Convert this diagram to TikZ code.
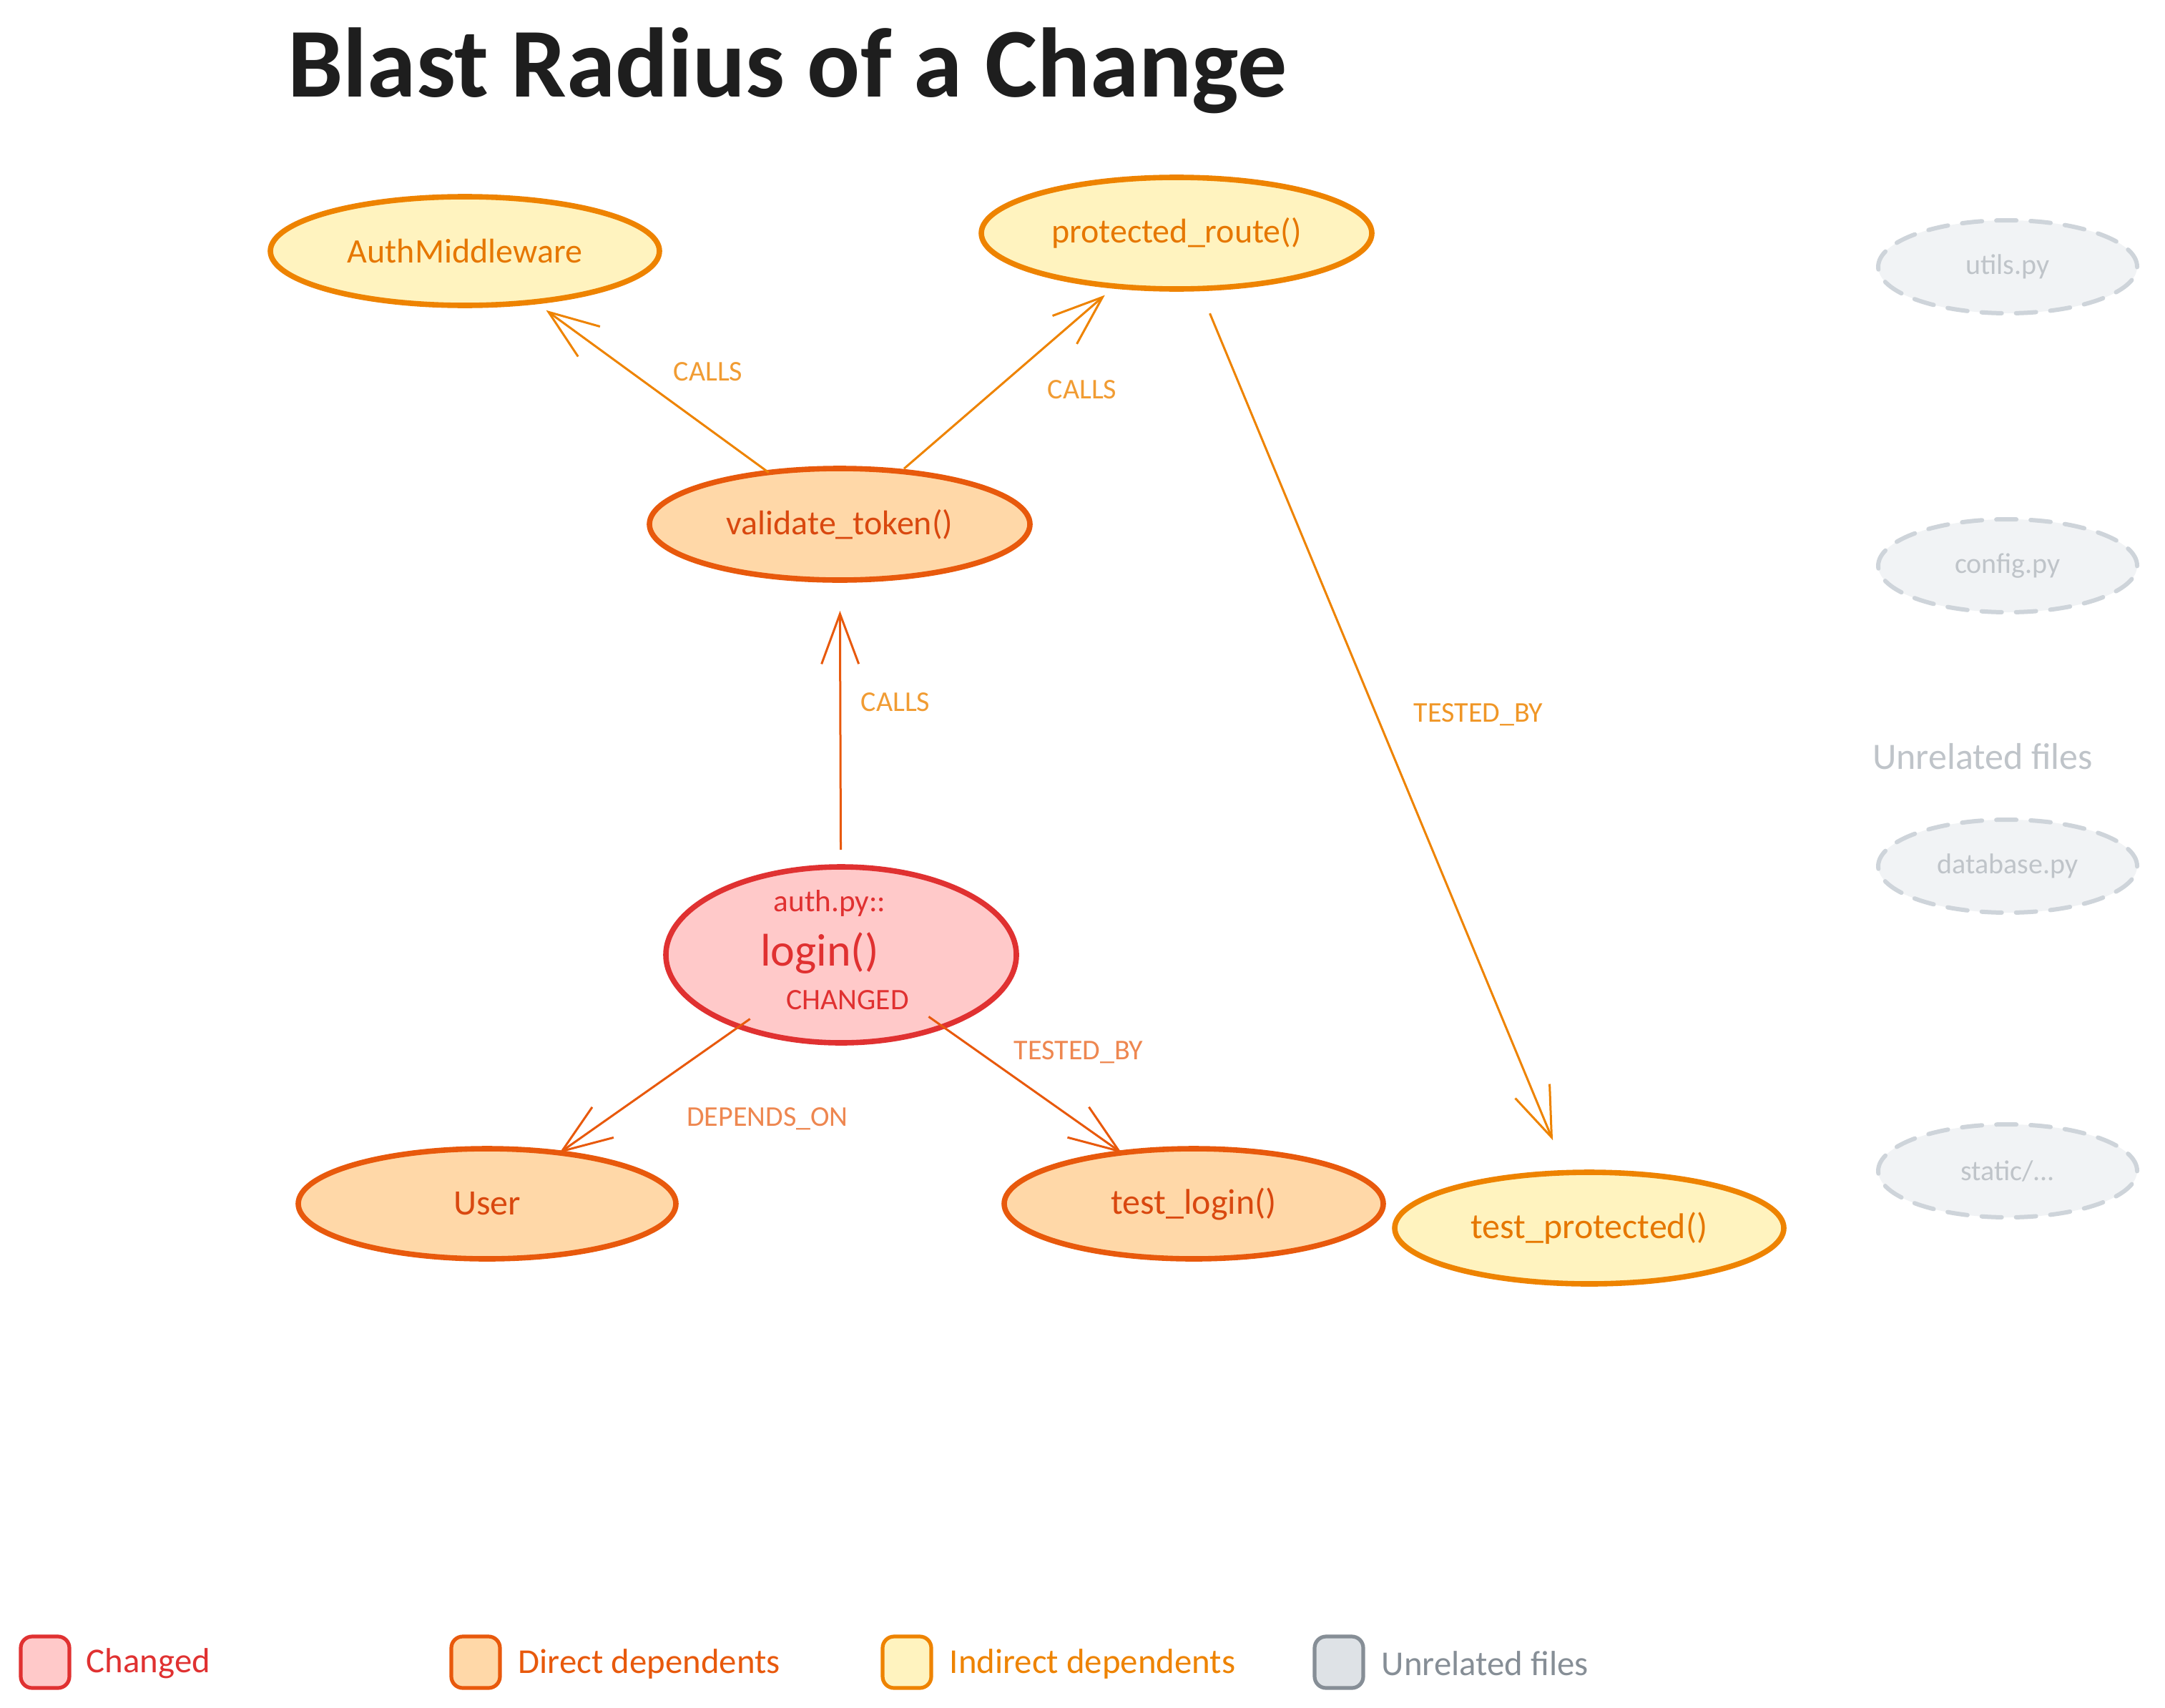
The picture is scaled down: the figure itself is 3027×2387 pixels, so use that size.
\documentclass[tikz,border=0pt]{standalone}
\usepackage{fontspec}
\setmainfont{Carlito}
\usetikzlibrary{shapes.geometric,arrows.meta}
\definecolor{chgF}{HTML}{FFC9C9}\definecolor{chgS}{HTML}{E03131}
\definecolor{dirF}{HTML}{FFD8A8}\definecolor{dirS}{HTML}{E8590C}\definecolor{dirT}{HTML}{D9480F}
\definecolor{indF}{HTML}{FFF3BF}\definecolor{indS}{HTML}{EE8300}\definecolor{indT}{HTML}{E67700}
\definecolor{unF}{HTML}{F1F3F5}\definecolor{unS}{HTML}{CED4DA}\definecolor{unT}{HTML}{BFC4C9}
\definecolor{legUF}{HTML}{DEE2E6}\definecolor{legUS}{HTML}{868E96}
\definecolor{ink}{HTML}{1E1E1E}
\begin{document}
\begin{tikzpicture}[x=0.25pt,y=-0.25pt,
  ell/.style={ellipse, draw, line width=1.9pt, inner sep=0pt, outer sep=0pt},
  chg/.style={ell, fill=chgF, draw=chgS},
  dir/.style={ell, fill=dirF, draw=dirS, text=dirT, font=\fontsize{12}{14}\selectfont},
  ind/.style={ell, fill=indF, draw=indS, text=indT, font=\fontsize{12}{14}\selectfont},
  unr/.style={ell, fill=unF, draw=unS, dash pattern=on 7pt off 5pt, line cap=round,
    line width=1.5pt, text=unT, font=\fontsize{10}{12}\selectfont,
    minimum width=90.5pt, minimum height=32.5pt},
  edgeA/.style={draw=indS, line width=0.75pt, -{Straight Barb[length=17.5pt,width=13pt]}},
  edgeB/.style={draw=dirS, line width=0.75pt, -{Straight Barb[length=17.5pt,width=13pt]}},
  lbl/.style={font=\fontsize{10}{12}\selectfont, inner sep=0pt},
  legbox/.style={draw, line width=1.3pt, rounded corners=4pt, minimum width=17pt,
    minimum height=18pt, inner sep=0pt},
  legtxt/.style={anchor=west, font=\fontsize{12.2}{14}\selectfont, inner sep=0pt}
]
\useasboundingbox[fill=white] (0,0) rectangle (3027,2387);

% title
\node[anchor=base, text=ink, font=\fontsize{34.5}{40}\selectfont\bfseries] (title) at (1101,136) {Blast Radius of a Change};

% nodes
\node[ind, minimum width=136pt, minimum height=38pt] (auth) at (650,351) {AuthMiddleware};
\node[ind, minimum width=136.5pt, minimum height=39pt] (prot) at (1645,326) {protected\_route()};
\node[dir, minimum width=133pt, minimum height=39pt] (val) at (1174,733) {validate\_token()};
\node[chg, minimum width=122.5pt, minimum height=61.5pt] (login) at (1176,1335) {};
\node[text=chgS, inner sep=0pt, font=\fontsize{10.8}{12}\selectfont] (loginA) at (1160,1263) {auth.py::};
\node[text=chgS, inner sep=0pt, font=\fontsize{16}{18}\selectfont] (loginB) at (1146,1333) {login()};
\node[text=chgS, inner sep=0pt, font=\fontsize{10.4}{12}\selectfont] (loginC) at (1185,1398) {CHANGED};
\node[dir, minimum width=132pt, minimum height=38.5pt, font=\fontsize{12.5}{14}\selectfont] (user) at (681,1683) {User};
\node[dir, minimum width=132.5pt, minimum height=38.5pt, font=\fontsize{12.5}{14}\selectfont] (tlog) at (1669,1683) {test\_login()};
\node[ind, minimum width=136pt, minimum height=39pt, font=\fontsize{12.5}{14}\selectfont] (tprot) at (2222,1717) {test\_protected()};

% unrelated
\node[unr] (u1) at (2807,373) {utils.py};
\node[unr] (u2) at (2807,791) {config.py};
\node[unr] (u3) at (2807,1211) {database.py};
\node[unr] (u4) at (2807,1637) {static/...};
\node[text=unT, inner sep=0pt, font=\fontsize{13}{15}\selectfont] (ulbl) at (2772,1058) {Unrelated files};

% edges
\draw[edgeA, shorten >=5pt] (val) -- (auth);
\draw[edgeA, shorten <=1.5pt, shorten >=4.8pt] (val) -- (prot);
\draw[edgeB, shorten <=6pt, shorten >=10.75pt] (login) -- (val);
\draw[edgeA, shorten <=9.4pt, shorten >=12.3pt] (prot) -- (tprot);
\draw[edgeB, shorten <=-4.6pt] (login) -- (user);
\draw[edgeB, shorten <=-6pt] (login) -- (tlog);

% edge labels
\node[lbl, text=indS!80!white] (l1) at (990,520) {CALLS};
\node[lbl, text=indS!80!white] (l2) at (1513,545) {CALLS};
\node[lbl, text=indS!80!white] (l3) at (1252,982) {CALLS};
\node[lbl, text=indS!85!white] (l4) at (2067,999) {TESTED\_BY};
\node[lbl, text=dirS!72!white] (l5) at (1073,1564) {DEPENDS\_ON};
\node[lbl, text=dirS!72!white] (l6) at (1508,1471) {TESTED\_BY};

% legend
\node[legbox, fill=chgF, draw=chgS] (lg1) at (63,2324) {};
\node[legtxt, text=chgS] (lt1) at (120,2326) {Changed};
\node[legbox, fill=dirF, draw=dirS] (lg2) at (665,2324) {};
\node[legtxt, text=dirS] (lt2) at (724,2326) {Direct dependents};
\node[legbox, fill=indF, draw=indS] (lg3) at (1268,2324) {};
\node[legtxt, text=indS] (lt3) at (1327,2326) {Indirect dependents};
\node[legbox, fill=legUF, draw=legUS] (lg4) at (1872,2324) {};
\node[legtxt, text=legUS] (lt4) at (1931,2326) {Unrelated files};
\end{tikzpicture}
\end{document}
